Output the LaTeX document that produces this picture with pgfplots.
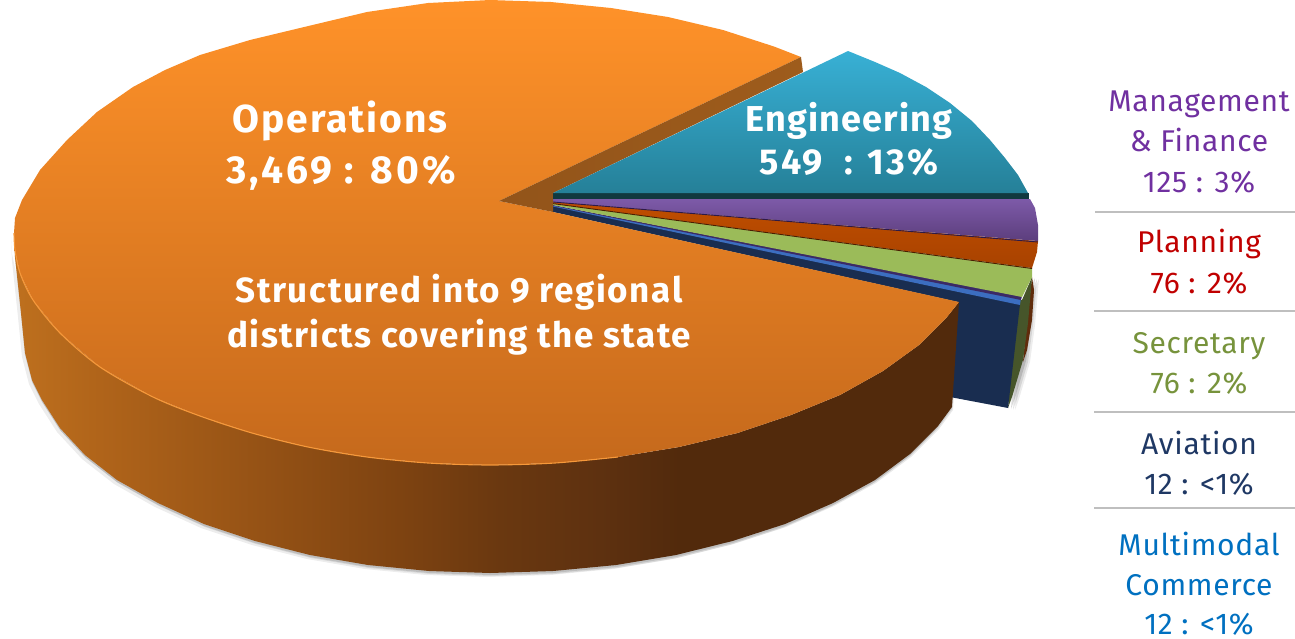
\documentclass[border=0pt]{standalone}
\usepackage{pgfplots}
\pgfplotsset{compat=1.18}
\usepackage{pgfplotstable}
\usepackage{fontspec}
\setmainfont{Fira Sans}
\newfontfamily\spacedA[LetterSpace=4.8]{Fira Sans}
\newfontfamily\spacedB[LetterSpace=8]{Fira Sans}
\newfontfamily\spacedC[LetterSpace=3.3]{Fira Sans}
\newfontfamily\spacedD[LetterSpace=4.2]{Fira Sans}
\newfontfamily\spacedE[LetterSpace=6.2]{Fira Sans}
\newfontfamily\spacedK[LetterSpace=2.3]{Fira Sans}

\definecolor{wa}{HTML}{BE701E}
\definecolor{wb}{HTML}{B0641A}
\definecolor{wc}{HTML}{8F4E14}
\definecolor{wd}{HTML}{7E4311}
\definecolor{we}{HTML}{6A3810}
\definecolor{wf}{HTML}{5E3110}
\definecolor{wg}{HTML}{522A0C}
\pgfdeclarehorizontalshading{wallshade}{100bp}{
  color(0bp)=(wa); color(25bp)=(wa); color(29.5bp)=(wb); color(40bp)=(wc);
  color(45.4bp)=(wd); color(50.7bp)=(we); color(56bp)=(wf); color(60.2bp)=(wg);
  color(75bp)=(wg); color(100bp)=(wg)}

% Outer wall of the large Operations slice
\pgfplotstableread{
x y
959 302
947 317
919 345
883 371
840 395
791 415
737.5 433
679 447
618 457
555 463
490 465
428 463
367 457
308 447
252 433
200 416
153 397
100 367
60 333
33 300
20 273
15 250
14 233
15 257
21 313
25 353
32 380
42 400
60 428
85 455
117 480
158 503
204 524
255 541
310 555
368 565
429 571
490 573
553 571
616 565
676 555
732.5 541
785 524
833 503
875 480
910 454
938 426
952 407
}\wallT

% Top face of the Operations slice
\pgfplotstableread{
x y
499 201
801 57
774 46.5
723 30
668 17
611 8
551 2
490 0
428 3
367 12
300 28
250 40
200 55
165 70
133 87
97 112
67 140
40 170
22 200
15 218
14 233
15 250
20 273
33 300
60 333
100 367
153 397
200 416
252 433
308 447
367 457
428 463
490 465
555 463
618 457
679 447
737.5 433
791 415
840 395
883 371
919 345
947 317
959 302
553 212
}\topT

% Rim highlight along the front edge of the top face
\pgfplotstableread{
x y
14 233
15 250
20 273
33 300
60 333
100 367
153 397
200 416
252 433
308 447
367 457
428 463
490 465
555 463
618 457
}\rimT

\pgfplotstableread{
x y
1016 300
1022 300
1032 277
1028 323
1023 360
1012 397
1008 408
}\greenwallT

\begin{document}
\begin{tikzpicture}
\path[use as bounding box] (0,0) rectangle (1295pt,638pt);
\begin{axis}[
  at={(0,0)}, anchor=south west,
  width=1295pt, height=638pt, scale only axis,
  xmin=0, xmax=1295, ymin=0, ymax=638, y dir=reverse,
  hide axis, clip=false]

% soft drop shadow under the walls
\addplot[draw=none, fill=black, fill opacity=.07, xshift=-3pt, yshift=-4pt] table {\wallT} -- cycle;
\addplot[draw=none, fill=black, fill opacity=.09, xshift=1pt, yshift=-3pt] table {\wallT} -- cycle;
\addplot[draw=none, fill=black, fill opacity=.12, xshift=0pt, yshift=-2pt] table {\wallT} -- cycle;
\addplot[draw=none, fill=black, fill opacity=.07, xshift=7pt, yshift=-2pt] table {\greenwallT} -- cycle;
\addplot[draw=none, fill=black, fill opacity=.10, xshift=5pt, yshift=-2pt] table {\greenwallT} -- cycle;
\addplot[draw=none, fill=black, fill opacity=.14, xshift=3pt, yshift=-1pt] table {\greenwallT} -- cycle;

% rear walls of the small slices
\addplot[draw=none, fill={rgb,255:red,96;green,44;blue,12}] coordinates {(1032,277)(1034,290)(1032,320)(1027,350)(1023,362)(1026,330)} -- cycle;
\addplot[draw=none, fill={rgb,255:red,70;green,85;blue,42}] table {\greenwallT} -- cycle;

% Aviation wall, Multimodal and Aviation edges
\addplot[draw=none, fill={rgb,255:red,25;green,45;blue,80}] coordinates {(553,206)(1020,304)(1008,408)(950,397)(958,302)(553,212)} -- cycle;
\addplot[draw=none, fill={rgb,255:red,60;green,110;blue,192}] coordinates {(553,205.5)(1021,298)(1020,305)(553,206.5)} -- cycle;
\addplot[draw=none, fill={rgb,255:red,59;green,42;blue,102}] coordinates {(553,205)(1022,296)(1021,300)(553,205.7)} -- cycle;

% Secretary slice
\addplot[draw=none, fill={rgb,255:red,155;green,187;blue,89}] coordinates {(553,203.5)(1032,268)(1032,277)(1022,297)(553,205)} -- cycle;
% Planning slice
\addplot[draw=none, top color={rgb,255:red,192;green,78;blue,0}, bottom color={rgb,255:red,168;green,66;blue,0}] coordinates {(553,202)(1038,241)(1037,252)(1032,268)(553,203.5)} -- cycle;
\addplot[draw={rgb,255:red,74;green,30;blue,0}, line width=.9pt] coordinates {(553,203.6)(1032,268.5)};
% Management slice
\addplot[draw=none, top color={rgb,255:red,125;green,90;blue,168}, bottom color={rgb,255:red,92;green,62;blue,125}] coordinates {(553,199)(1030,199)(1035,208)(1038,225)(1038,241)(553,202)} -- cycle;
\addplot[draw={rgb,255:red,46;green,26;blue,71}, line width=.9pt] coordinates {(553,202)(1038,242)};

% outer wall and top of the Operations slice, then its wedge wall
\addplot[draw=none, shade, shading=wallshade] table {\wallT} -- cycle;
\addplot[draw=none, top color={rgb,255:red,255;green,146;blue,41}, bottom color={rgb,255:red,197;green,105;blue,28}] table {\topT} -- cycle;
\addplot[smooth, draw={rgb,255:red,246;green,152;blue,58}, line width=1.1pt] table {\rimT};
\addplot[draw=none, left color={rgb,255:red,146;green,84;blue,26}, right color={rgb,255:red,158;green,92;blue,28}] coordinates {(499,201)(801,57)(803,72)(553,193)(553,212)} -- cycle;

% Engineering slice
\addplot[draw=none, fill={rgb,255:red,17;green,57;blue,63}] coordinates {(553,193)(1029,193)(1029,199)(553,199)} -- cycle;
\addplot[draw=none, top color={rgb,255:red,56;green,176;blue,213}, bottom color={rgb,255:red,37;green,128;blue,152}] coordinates {(553,193)(848,51)(875,62)(900,73)(926,87)(950,103)(972,121)(990,140)(1005,158)(1018,175)(1028,193)} -- cycle;

% slice labels
\node[white, font=\fontsize{39}{46}\spacedA\bfseries, anchor=base] at (axis cs:340,132) {Operations};
\node[white, font=\fontsize{39}{46}\spacedB\bfseries, anchor=base] at (axis cs:341,183) {3,469 : 80\%};
\node[white, font=\fontsize{36}{44}\spacedC\bfseries, anchor=base] at (axis cs:849,131) {Engineering};
\node[white, font=\fontsize{36}{44}\spacedE\bfseries, anchor=base] at (axis cs:849,174) {549~ : 13\%};
\node[white, font=\fontsize{35}{44}\spacedA\bfseries, anchor=base] at (axis cs:459,302) {Structured into 9 regional};
\node[white, font=\fontsize{35}{44}\spacedD\bfseries, anchor=base] at (axis cs:459,347) {districts covering the state};

% small-slice key
\newcommand{\keyline}[3]{\node[text=#1, inner sep=0pt, font=\fontsize{30}{36}\spacedK, anchor=base] at (axis cs:1199,#2) {#3};}
\definecolor{kp}{HTML}{7030A0}
\definecolor{kr}{HTML}{C00000}
\definecolor{kg}{HTML}{77933C}
\definecolor{kn}{HTML}{1F3864}
\definecolor{kb}{HTML}{0070C0}
\keyline{kp}{111}{Management}
\keyline{kp}{151}{\& Finance}
\keyline{kp}{192}{125 : 3\%}
\keyline{kr}{252}{Planning}
\keyline{kr}{293}{76 : 2\%}
\keyline{kg}{353}{Secretary}
\keyline{kg}{393}{76 : 2\%}
\keyline{kn}{454}{Aviation}
\keyline{kn}{494}{12 : <1\%}
\keyline{kb}{555}{Multimodal}
\keyline{kb}{595}{Commerce}
\keyline{kb}{634}{12 : <1\%}

% separators in the key
\addplot[draw={rgb,255:red,191;green,191;blue,191}, line width=2pt] coordinates {(1095,212)(1295,212)};
\addplot[draw={rgb,255:red,191;green,191;blue,191}, line width=2pt] coordinates {(1094,311)(1295,311)};
\addplot[draw={rgb,255:red,191;green,191;blue,191}, line width=2pt] coordinates {(1094,412)(1295,412)};
\addplot[draw={rgb,255:red,191;green,191;blue,191}, line width=2pt] coordinates {(1094,508)(1295,508)};
\end{axis}
\end{tikzpicture}
\end{document}
